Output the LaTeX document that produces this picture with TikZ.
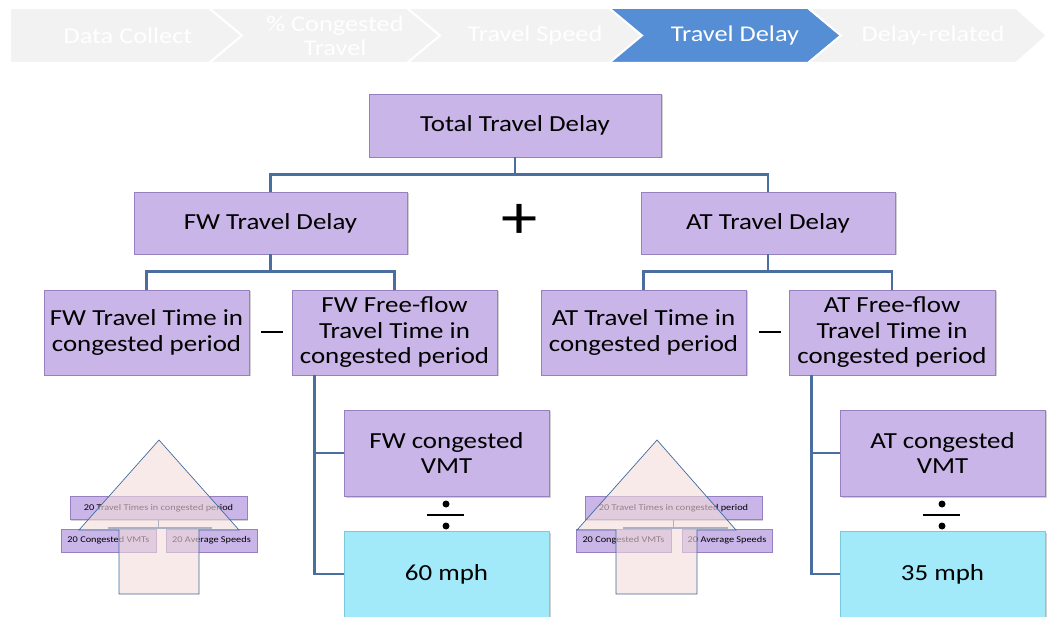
\documentclass[tikz,border=0pt]{standalone}
\usepackage{fontspec}
\setmainfont{Carlito}[FakeStretch=1.17]
\usetikzlibrary{shadows}
\definecolor{boxfill}{HTML}{C9B5E7}
\definecolor{boxline}{HTML}{9680C0}
\definecolor{speedfill}{HTML}{A2E9FA}
\definecolor{speedline}{HTML}{7CC8DC}
\definecolor{conncol}{HTML}{4A6E9F}
\definecolor{barfill}{HTML}{F2F2F2}
\definecolor{barblue}{HTML}{558ED5}
\definecolor{upfill}{HTML}{F2DCDB}
\definecolor{upline}{HTML}{3F6A9E}

\begin{document}
\begin{tikzpicture}[x=1pt, y=-1pt,
  box/.style={draw=boxline, fill=boxfill, line width=0.8pt, align=center, inner sep=2pt,
    font=\fontsize{23}{25.5}\selectfont,
    drop shadow={shadow xshift=1.5pt, shadow yshift=-1.5pt, opacity=.3, fill=black!60}},
  speedbox/.style={box, draw=speedline, fill=speedfill},
  minibox/.style={draw=boxline, fill=boxfill, line width=0.6pt, inner sep=1pt, minimum height=23,
    font=\fontsize{8.8}{10}\selectfont,
    drop shadow={shadow xshift=1pt, shadow yshift=-1pt, opacity=.3, fill=black!60}},
  conn/.style={draw=conncol, line width=2.5pt},
  miniconn/.style={draw=conncol, line width=1.8pt},
  chev/.style={fill=barfill, draw=white, line width=2pt},
  chevtext/.style={text=white, align=center, font=\fontsize{22.5}{24}\selectfont},
  opline/.style={line width=1.6pt},
  uparrow/.style={fill=upfill, fill opacity=.6, draw=upline, line width=0.7pt}]
  \useasboundingbox (0,0) rectangle (1047,617);

  % process bar
  \draw[chev] (10,8) -- (209,8) -- (242,35.5) -- (209,63) -- (10,63) -- cycle;
  \draw[chev] (209,8) -- (407,8) -- (440,35.5) -- (407,63) -- (209,63) -- (242,35.5) -- cycle;
  \draw[chev] (407,8) -- (609,8) -- (642,35.5) -- (609,63) -- (407,63) -- (440,35.5) -- cycle;
  \draw[chev, fill=barblue] (609,8) -- (808,8) -- (841,35.5) -- (808,63) -- (609,63) -- (642,35.5) -- cycle;
  \draw[chev] (808,8) -- (1016,8) -- (1047,35.5) -- (1016,63) -- (808,63) -- (841,35.5) -- cycle;
  \node[chevtext] (step1) at (128,35.5) {Data Collect};
  \node[chevtext] (step2) at (335,35.5) {\% Congested\\Travel};
  \node[chevtext] (step3) at (535,35.5) {Travel Speed};
  \node[chevtext] (step4) at (735,35.5) {Travel Delay};
  \node[chevtext] (step5) at (933,35.5) {Delay-related};

  % tree
  \node[box, minimum width=292, minimum height=63] (total) at (515,125.5) {Total Travel Delay};
  \node[box, minimum width=273, minimum height=62] (fwdelay) at (270.5,223) {FW Travel Delay};
  \node[box, minimum width=254, minimum height=62] (atdelay) at (768,223) {AT Travel Delay};
  \node[box, minimum width=205, minimum height=85] (fwtime) at (146.5,332.5) {FW Travel Time in\\congested period};
  \node[box, minimum width=205, minimum height=85] (fwfree) at (394.5,332.5) {FW Free-flow\\Travel Time in\\congested period};
  \node[box, minimum width=205, minimum height=85] (attime) at (643.5,332.5) {AT Travel Time in\\congested period};
  \node[box, minimum width=206, minimum height=85] (atfree) at (892,332.5) {AT Free-flow\\Travel Time in\\congested period};
  \node[box, minimum width=205, minimum height=86] (fwvmt) at (446.5,453) {FW congested\\VMT};
  \node[speedbox, minimum width=205, minimum height=86] (fwspeed) at (446.5,574) {60 mph};
  \node[box, minimum width=205, minimum height=86] (atvmt) at (942.5,453) {AT congested\\VMT};
  \node[speedbox, minimum width=205, minimum height=86] (atspeed) at (942.5,574) {35 mph};

  \draw[conn] (total.south) -- ++(0,17) -| (fwdelay.north);
  \draw[conn] (total.south) -- ++(0,17) -| (atdelay.north);
  \draw[conn] (fwdelay.south) -- ++(0,17) -| (fwtime.north);
  \draw[conn] (fwdelay.south) -- ++(0,17) -| (fwfree.north);
  \draw[conn] (atdelay.south) -- ++(0,17) -| (attime.north);
  \draw[conn] (atdelay.south) -- ++(0,17) -| (atfree.north);
  \draw[conn] ([xshift=23pt]fwfree.south west) |- (fwvmt.west);
  \draw[conn] ([xshift=23pt]fwfree.south west) |- (fwspeed.west);
  \draw[conn] ([xshift=23pt]atfree.south west) |- (atvmt.west);
  \draw[conn] ([xshift=23pt]atfree.south west) |- (atspeed.west);

  % operators
  \node[font=\fontsize{62}{62}\selectfont] (plus) at (520,221) {+};
  \draw[opline] (261,332) -- (283,332);
  \draw[opline] (759,332) -- (781,332);
  \draw[line width=2.2pt] (427,515) -- (464,515);
  \fill (446,504) circle [radius=3.5] (446,526) circle [radius=3.5];
  \draw[line width=2.2pt] (923,515) -- (960,515);
  \fill (942,504) circle [radius=3.5] (942,526) circle [radius=3.5];

  % small inset, left
  \node[minibox, minimum width=177] (fwtt) at (158.5,508) {20 Travel Times in congested period};
  \node[minibox, minimum width=95] (fwcv) at (108.5,540.5) {20 Congested VMTs};
  \node[minibox, minimum width=91] (fwas) at (211.5,540.5) {20 Average Speeds};
  \draw[miniconn] (fwtt.south) -- ++(0,8) -| (fwcv.north);
  \draw[miniconn] (fwtt.south) -- ++(0,8) -| (fwas.north);
  \draw[uparrow] (119,594) -- (119,530) -- (79,530) -- (159,440) -- (239,530) -- (199,530) -- (199,594) -- cycle;

  % small inset, right
  \node[minibox, minimum width=177] (attt) at (673.5,508) {20 Travel Times in congested period};
  \node[minibox, minimum width=95] (atcv) at (623.5,540.5) {20 Congested VMTs};
  \node[minibox, minimum width=90] (atas) at (727,540.5) {20 Average Speeds};
  \draw[miniconn] (attt.south) -- ++(0,8) -| (atcv.north);
  \draw[miniconn] (attt.south) -- ++(0,8) -| (atas.north);
  \draw[uparrow] (616,594) -- (616,530) -- (577,530) -- (657,440) -- (736,530) -- (697,530) -- (697,594) -- cycle;
\end{tikzpicture}
\end{document}
